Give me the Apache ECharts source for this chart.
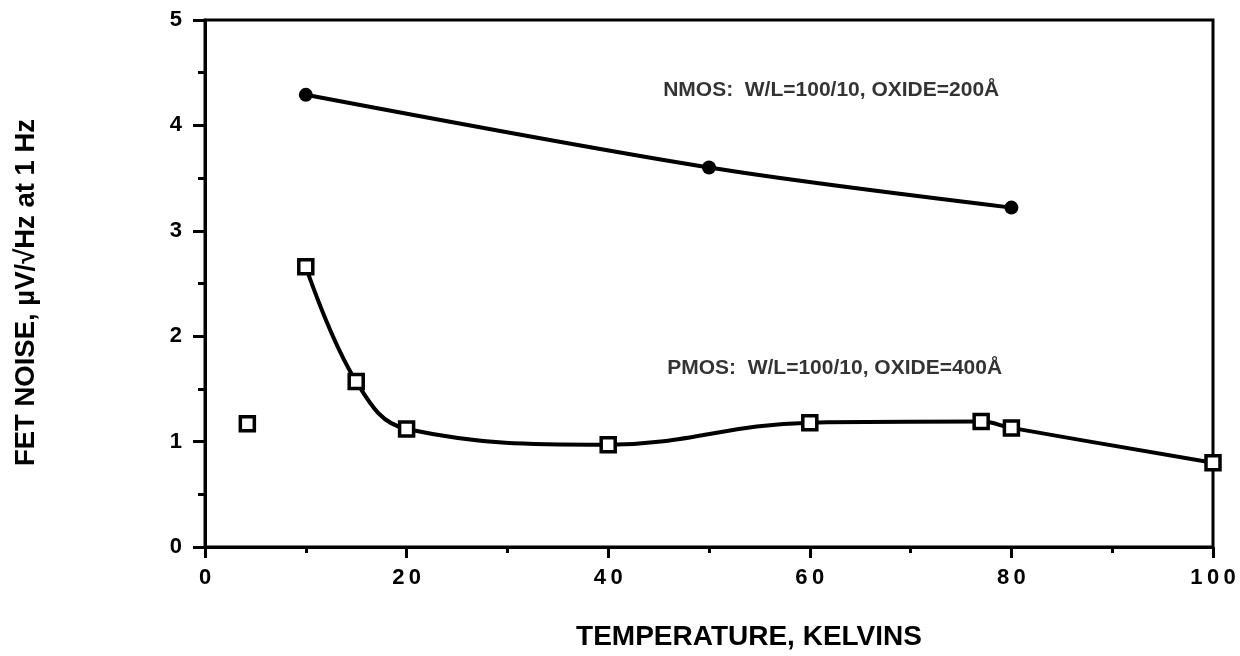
<!DOCTYPE html>
<html>
<head>
<meta charset="utf-8">
<script src="https://cdn.jsdelivr.net/npm/echarts@6/dist/echarts.min.js"></script>
<style>
  html, body { margin: 0; padding: 0; background: #fff; }
  #chart { width: 1240px; height: 656px; }
</style>
</head>
<body>
<div id="chart"></div>
<script>
// values
const nmosTemp = [10, 50, 80];
const nmosNoise = [4.29, 3.6, 3.22];

const pmosTemp = [10, 15, 20, 40, 60, 77, 80, 100];
const pmosNoise = [2.66, 1.57, 1.12, 0.97, 1.18, 1.19, 1.13, 0.8];

// lone PMOS point at 4.2 K, not on the curve
const pmosLoneTemp = [4.2];
const pmosLoneNoise = [1.17];

const nmosNote = "NMOS:  W/L=100/10, OXIDE=200Å";
const pmosNote = "PMOS:  W/L=100/10, OXIDE=400Å";
const notePos = { nmos: [45.4, 4.33], pmos: [45.8, 1.7] };

const FONT = "'Liberation Sans', Arial, sans-serif";

const zip = (xs, ys) => xs.map((x, i) => [x, ys[i]]);

// spread the digits a bit, like the old plot (thin spaces)
const spaced = v => String(v).split("").join("\u2009");

const chart = echarts.init(document.getElementById("chart"));

chart.setOption({
  backgroundColor: "#fff",
  animation: false,
  grid: {
    left: 205, right: 27, top: 20, bottom: 104,
    show: true, borderColor: "#000", borderWidth: 3
  },
  xAxis: {
    type: "value",
    min: 0, max: 100, interval: 20,
    name: "TEMPERATURE, KELVINS",
    nameLocation: "middle",
    nameGap: 76,
    nameTextStyle: {
      fontFamily: FONT, fontWeight: "bold", fontSize: 28, color: "#000",
      padding: [0, 0, 0, 80]
    },
    axisLine: { lineStyle: { color: "#000", width: 3 } },
    axisTick: { length: 11, lineStyle: { color: "#000", width: 3 } },
    minorTick: { show: true, splitNumber: 2, length: 6, lineStyle: { color: "#000", width: 3 } },
    splitLine: { show: false },
    axisLabel: {
      margin: 20,
      formatter: spaced,
      fontFamily: FONT, fontWeight: "bold", fontSize: 22, color: "#000"
    }
  },
  yAxis: {
    type: "value",
    min: 0, max: 5, interval: 1,
    name: "FET NOISE, µV/√Hz at 1 Hz",
    nameLocation: "middle",
    nameGap: 165,
    nameTextStyle: {
      fontFamily: FONT, fontWeight: "bold", fontSize: 27.5, color: "#000",
      padding: [0, 18, 0, 0]
    },
    axisLine: { lineStyle: { color: "#000", width: 3 } },
    axisTick: { length: 12, lineStyle: { color: "#000", width: 3 } },
    minorTick: { show: true, splitNumber: 2, length: 7, lineStyle: { color: "#000", width: 3 } },
    splitLine: { show: false },
    axisLabel: {
      margin: 23,
      fontFamily: FONT, fontWeight: "bold", fontSize: 22, color: "#000"
    }
  },
  series: [
    {
      name: "NMOS",
      type: "line",
      smooth: 0.3,
      data: zip(nmosTemp, nmosNoise),
      symbol: "circle",
      symbolSize: 14,
      lineStyle: { color: "#000", width: 4 },
      itemStyle: { color: "#000" }
    },
    {
      name: "PMOS",
      type: "line",
      smooth: 0.4,
      data: zip(pmosTemp, pmosNoise),
      symbol: "rect",
      symbolSize: 14,
      lineStyle: { color: "#000", width: 4 },
      itemStyle: { color: "#fff", borderColor: "#000", borderWidth: 3.5 },
      z: 3
    },
    {
      name: "PMOS 4 K",
      type: "scatter",
      data: zip(pmosLoneTemp, pmosLoneNoise),
      symbol: "rect",
      symbolSize: 14,
      itemStyle: { color: "#fff", borderColor: "#000", borderWidth: 3.5, opacity: 1 }
    },
    {
      name: "notes",
      type: "scatter",
      silent: true,
      symbolSize: 1,
      itemStyle: { color: "transparent" },
      data: [
        { value: notePos.nmos, note: nmosNote },
        { value: notePos.pmos, note: pmosNote }
      ],
      label: {
        show: true,
        position: "right",
        distance: 0,
        formatter: p => p.data.note,
        fontFamily: FONT, fontWeight: "bold", fontSize: 21, color: "#000"
      }
    }
  ]
});
</script>
</body>
</html>
